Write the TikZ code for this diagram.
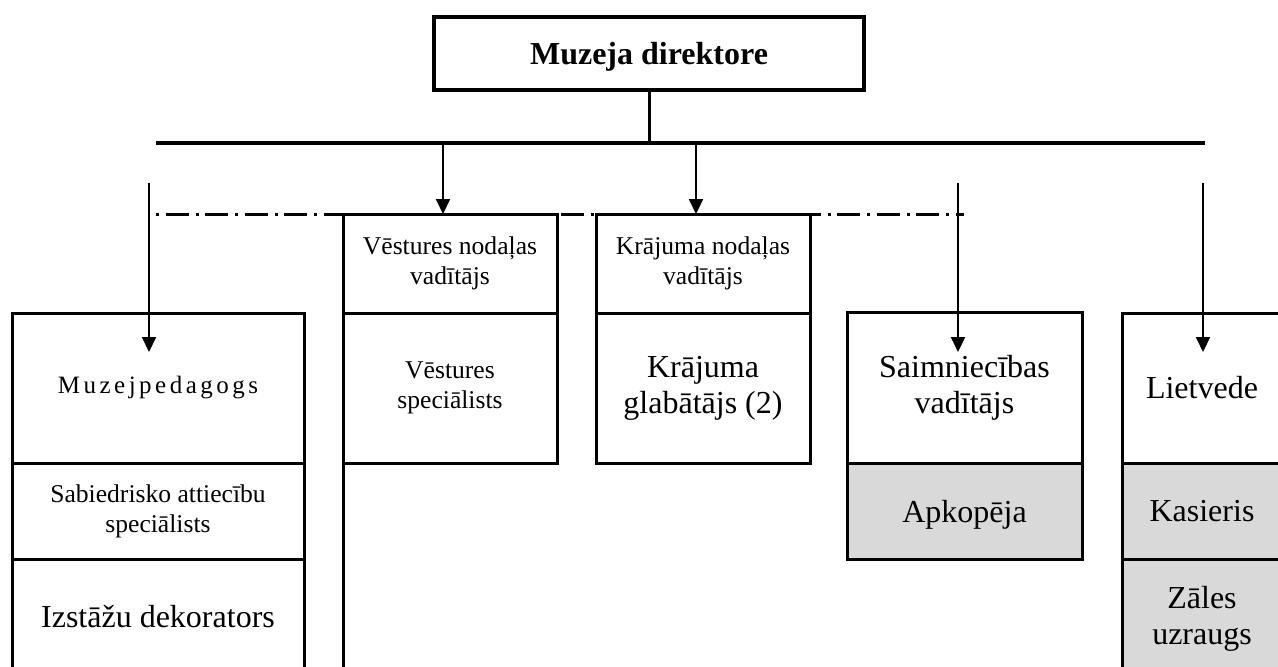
\documentclass[tikz,border=0pt]{standalone}
\usepackage{fontspec}
\setmainfont{Liberation Serif}
\newfontfamily\spacedserif[LetterSpace=14]{Liberation Serif}
\usepackage{tikz}
\usetikzlibrary{arrows.meta,positioning}
\definecolor{cellgray}{HTML}{D9D9D9}

\begin{document}
\begin{tikzpicture}[x=0.5pt, y=-0.5pt, >={Triangle[width=7pt,length=7.5pt]}]
		\tikzset{
			cell/.style={draw, line width=1.5pt, fill=white, anchor=north west, align=center, inner sep=0pt, outer sep=0pt},
			shaded/.style={cell, fill=cellgray},
			big/.style={font=\fontsize{16}{18}\selectfont},
			small/.style={font=\fontsize{12.8}{15}\selectfont},
			link/.style={->, line width=1pt},
			bus/.style={line width=2pt},
			staffline/.style={line width=1.5pt, dash pattern=on 1.5pt off 3.25pt on 11.5pt off 3.5pt}
		}
		\useasboundingbox (0,0) rectangle (1278,666);
		\clip (0,0) rectangle (1278,666);

		% Direktore
		\node[draw, line width=1.75pt, minimum width=215pt, minimum height=36.5pt, inner sep=0pt, outer sep=0pt,
			text depth=0pt, font=\fontsize{16}{18}\selectfont\bfseries] (dir) at (649,53.5) {Muzeja direktore};

		% Kopne
		\coordinate (busl) at (156,143);
		\coordinate (busr) at (1205,143);
		\draw[bus] (busl) -- (busr);
		\draw[line width=1.5pt] (dir.south) -- (dir.south |- busl);

		% Punktsvitru linija
		\coordinate (dl) at (156,214);
		\coordinate (dr) at (964,214);
		\draw[staffline] (dl) -- (dr);

		% Muzejpedagogs
		\node[cell, minimum width=146pt, minimum height=75pt, font=\fontsize{12.5}{15}\spacedserif] (ped) at (12,313) {Muzejpedagogs};
		\node[cell, small, minimum width=146pt, minimum height=48pt] (pr) at (ped.south west) {Sabiedrisko attiecību\\speciālists};
		\node[cell, big, minimum width=146pt, minimum height=58pt] (deco) at (pr.south west) {Izstāžu dekorators};

		% Vēstures nodaļa
		\node[cell, small, minimum width=107pt, minimum height=49.5pt] (vhead) at (343,214) {Vēstures nodaļas\\vadītājs};
		\node[cell, small, minimum width=107pt, minimum height=75pt] (vspec) at (vhead.south west) {Vēstures\\speciālists};
		\draw[line width=1.5pt] (vspec.south west) -- ++(0,220);

		% Krājuma nodaļa
		\node[cell, small, minimum width=107pt, minimum height=49.5pt] (khead) at (596,214) {Krājuma nodaļas\\vadītājs};
		\node[cell, big, minimum width=107pt, minimum height=75pt] (kkeep) at (khead.south west) {Krājuma\\glabātājs (2)};

		% Saimniecība
		\node[cell, big, minimum width=117.5pt, minimum height=75.5pt] (shead) at (847,312) {Saimniecības\\vadītājs};
		\node[shaded, big, text depth=0pt, minimum width=117.5pt, minimum height=48pt] (sclean) at (shead.south west) {Apkopēja};

		% Lietvede
		\node[cell, big, minimum width=80pt, minimum height=75pt] (lhead) at (1122,313) {Lietvede};
		\node[shaded, big, minimum width=80pt, minimum height=48pt] (lcash) at (lhead.south west) {Kasieris};
		\node[shaded, big, minimum width=80pt, minimum height=60pt] (lguard) at (lcash.south west) {Zāles\\uzraugs};

		% Bultas
		\coordinate (busv) at (443,143);
		\coordinate (busk) at (696,143);
		\draw[link] (busv) -- (busv |- vhead.north);
		\draw[link] (busk) -- (busk |- khead.north);
		\foreach \x [count=\i] in {149,958,1203} {
			\coordinate (from\i) at (\x,183);
			\coordinate (to\i) at (\x,352);
			\draw[link] (from\i) -- (to\i);
		}
	\end{tikzpicture}
\end{document}
